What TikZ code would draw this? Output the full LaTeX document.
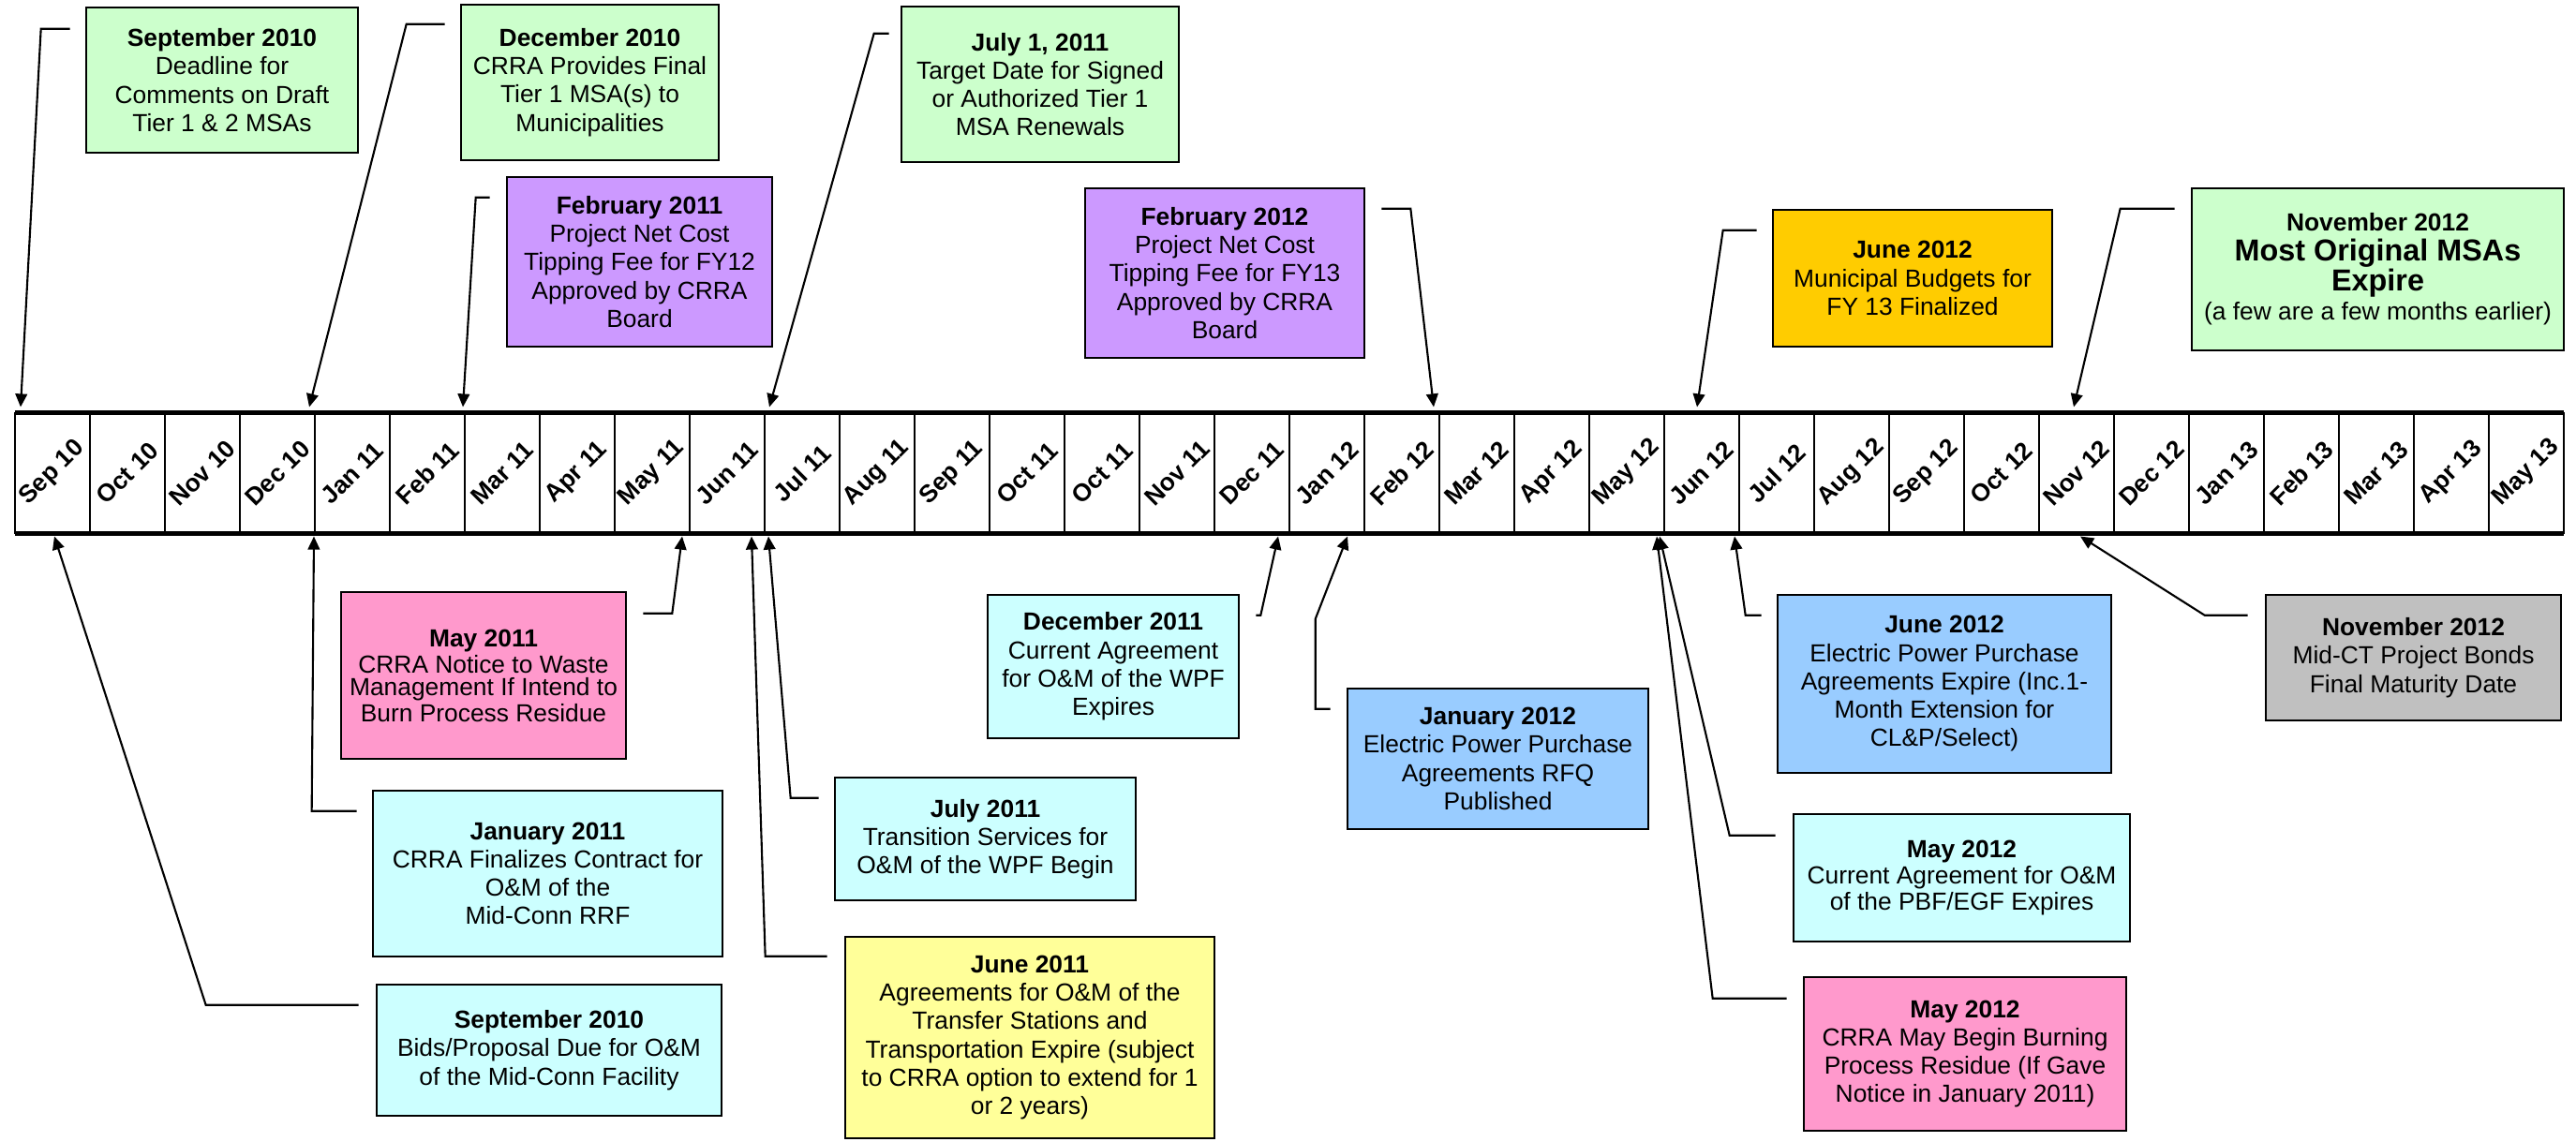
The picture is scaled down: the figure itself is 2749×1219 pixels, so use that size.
\documentclass[tikz,border=0pt]{standalone}
\usepackage{fontspec}
\setmainfont{Liberation Sans}
\usepackage{tikz}
\usetikzlibrary{arrows.meta,calc}

\definecolor{msagreen}{HTML}{CCFFCC}
\definecolor{feepurple}{HTML}{CC99FF}
\definecolor{budgetgold}{HTML}{FFCC00}
\definecolor{burnpink}{HTML}{FF99CC}
\definecolor{omcyan}{HTML}{CCFFFF}
\definecolor{powerblue}{HTML}{99CCFF}
\definecolor{transyellow}{HTML}{FFFF99}
\definecolor{bondgrey}{HTML}{C0C0C0}

\tikzset{
  evt/.style={draw, line width=0.7pt, align=center, inner sep=0pt, font=\fontsize{7.5}{8.6}\selectfont},
  tight/.style={font=\fontsize{7.5}{6.8}\selectfont},
  cell/.style={draw, line width=0.5pt, minimum width=0.8cm, minimum height=1.29cm, inner sep=0pt, outer sep=0pt},
  monthlbl/.style={rotate=45, inner sep=0pt, font=\fontsize{7.5}{9}\selectfont\bfseries},
  conn/.style={-{Triangle[length=4pt,width=3.6pt]}, line width=0.6pt},
}

\begin{document}
\begin{tikzpicture}[x=0.01cm, y=-0.01cm]

\useasboundingbox (0,0) rectangle (2749,1219);

% month bar
\foreach \mon [count=\i from 0] in {Sep 10,Oct 10,Nov 10,Dec 10,Jan 11,Feb 11,Mar 11,Apr 11,May 11,Jun 11,Jul 11,Aug 11,Sep 11,Oct 11,Oct 11,Nov 11,Dec 11,Jan 12,Feb 12,Mar 12,Apr 12,May 12,Jun 12,Jul 12,Aug 12,Sep 12,Oct 12,Nov 12,Dec 12,Jan 13,Feb 13,Mar 13,Apr 13,May 13}
{
  \node[cell] (m\i) at (56+80*\i,505) {};
  \node[monthlbl] (t\i) at (m\i) {\mon};
}

\draw[line width=1.45pt] (m0.north west) -- (m33.north east);
\draw[line width=1.45pt] (m0.south west) -- (m33.south east);

% events above the bar
\node[evt, fill=msagreen, minimum width=2.90cm, minimum height=1.55cm] (sepA) at (237,85.5)
  {\textbf{September 2010}\\Deadline for\\Comments on Draft\\Tier 1 \& 2 MSAs};
\node[evt, fill=msagreen, minimum width=2.75cm, minimum height=1.66cm] (decA) at (629.5,88)
  {\textbf{December 2010}\\CRRA Provides Final\\Tier 1 MSA(s) to\\Municipalities};
\node[evt, fill=feepurple, minimum width=2.83cm, minimum height=1.81cm] (febA) at (682.5,279.5)
  {\textbf{February 2011}\\Project Net Cost\\Tipping Fee for FY12\\Approved by CRRA\\Board};
\node[evt, fill=msagreen, minimum width=2.96cm, minimum height=1.66cm] (julA) at (1110,90)
  {\textbf{July 1, 2011}\\Target Date for Signed\\or Authorized Tier 1\\MSA Renewals};
\node[evt, fill=feepurple, minimum width=2.98cm, minimum height=1.81cm] (febB) at (1307,291.5)
  {\textbf{February 2012}\\Project Net Cost\\Tipping Fee for FY13\\Approved by CRRA\\Board};
\node[evt, fill=budgetgold, minimum width=2.98cm, minimum height=1.46cm] (junB) at (2041,297)
  {\textbf{June 2012}\\Municipal Budgets for\\FY 13 Finalized};
\node[evt, fill=msagreen, minimum width=3.97cm, minimum height=1.73cm, font=\fontsize{7.5}{9}\selectfont] (novB) at (2537.5,287.5)
  {\textbf{November 2012}\\{\fontsize{9.2}{9}\selectfont\bfseries Most Original MSAs}\\{\fontsize{9.2}{9}\selectfont\bfseries Expire}\\(a few are a few months earlier)};

% events below the bar
\node[evt, fill=omcyan, minimum width=3.68cm, minimum height=1.40cm] (sepC) at (586,1121)
  {\textbf{September 2010}\\Bids/Proposal Due for O\&M\\of the Mid-Conn Facility};
\node[evt, fill=omcyan, minimum width=3.73cm, minimum height=1.77cm] (janA) at (584.5,932.5)
  {\textbf{January 2011}\\CRRA Finalizes Contract for\\O\&M of the\\Mid-Conn RRF};
\node[evt, tight, fill=burnpink, minimum width=3.04cm, minimum height=1.78cm] (mayA) at (516,721)
  {\textbf{May 2011}\\CRRA Notice to Waste\\Management If Intend to\\Burn Process Residue};
\node[evt, fill=omcyan, minimum width=2.68cm, minimum height=1.53cm] (decB) at (1188,711.5)
  {\textbf{December 2011}\\Current Agreement\\for O\&M of the WPF\\Expires};
\node[evt, fill=omcyan, minimum width=3.21cm, minimum height=1.31cm] (julB) at (1051.5,895.5)
  {\textbf{July 2011}\\Transition Services for\\O\&M of the WPF Begin};
\node[evt, fill=transyellow, minimum width=3.94cm, minimum height=2.15cm] (junA) at (1099,1107.5)
  {\textbf{June 2011}\\Agreements for O\&M of the\\Transfer Stations and\\Transportation Expire (subject\\to CRRA option to extend for 1\\or 2 years)};
\node[evt, fill=powerblue, minimum width=3.21cm, minimum height=1.50cm] (janB) at (1598.5,810)
  {\textbf{January 2012}\\Electric Power Purchase\\Agreements RFQ\\Published};
\node[evt, fill=powerblue, minimum width=3.56cm, minimum height=1.90cm] (junC) at (2075,730)
  {\textbf{June 2012}\\Electric Power Purchase\\Agreements Expire (Inc.1-\\Month Extension for\\CL\&P/Select)};
\node[evt, fill=bondgrey, minimum width=3.15cm, minimum height=1.34cm] (novC) at (2575.5,702)
  {\textbf{November 2012}\\Mid-CT Project Bonds\\Final Maturity Date};
\node[evt, tight, fill=omcyan, minimum width=3.59cm, minimum height=1.36cm] (mayB) at (2093.5,937)
  {\textbf{May 2012}\\Current Agreement for O\&M\\of the PBF/EGF Expires};
\node[evt, fill=burnpink, minimum width=3.44cm, minimum height=1.64cm] (mayC) at (2097,1125)
  {\textbf{May 2012}\\CRRA May Begin Burning\\Process Residue (If Gave\\Notice in January 2011)};

% pointers to the bar
\draw[conn] ($(sepA.north west)+(-16,24)$) -- ++(-31,0) -- ($(m0.north)+(-34,-6)$);
\draw[conn] ($(decA.north west)+(-16,22)$) -- ++(-41,0) -- ($(m3.north)+(34,-6)$);
\draw[conn] ($(febA.north west)+(-17,23)$) -- ++(-15,0) -- ($(m5.north)+(38,-6)$);
\draw[conn] ($(julA.north west)+(-12,30)$) -- ++(-16,0) -- ($(m10.north)+(-35,-6)$);
\draw[conn] ($(febB.north east)+(17,23)$) -- ++(31,0) -- ($(m18.north)+(34,-6)$);
\draw[conn] ($(junB.north west)+(-16,23)$) -- ++(-36,0) -- ($(m22.north)+(-5,-6)$);
\draw[conn] ($(novB.north west)+(-17,23)$) -- ++(-58,0) -- ($(m27.north)+(-3,-6)$);

\draw[conn] ($(sepC.north west)+(-18,23)$) -- ++(-163,0) -- ($(m0.south)+(2,3)$);
\draw[conn] ($(janA.north west)+(-16,23)$) -- ++(-48,0) -- ($(m4.south)+(-41,3)$);
\draw[conn] ($(mayA.north east)+(17,24)$) -- ++(31,0) -- ($(m8.south)+(32,3)$);
\draw[conn] ($(decB.north east)+(17,23)$) -- ++(5,0) -- ($(m16.south)+(28,3)$);
\draw[conn] ($(julB.north west)+(-16,23)$) -- ++(-30,0) -- ($(m10.south)+(-36,3)$);
\draw[conn] ($(junA.north west)+(-18,22)$) -- ++(-66,0) -- ($(m9.south)+(26,3)$);
\draw[conn] ($(janB.north west)+(-17,23)$) -- ++(-16,0) -- ++(0,-96) -- ($(m17.south)+(22,3)$);
\draw[conn] ($(junC.north west)+(-16,23)$) -- ++(-17,0) -- ($(m22.south)+(35,3)$);
\draw[conn] ($(novC.north west)+(-18,23)$) -- ++(-46,0) -- ($(m27.south)+(4,3)$);
\draw[conn] ($(mayB.north west)+(-18,24)$) -- ++(-49,0) -- ($(m21.south)+(35,3)$);
\draw[conn] ($(mayC.north west)+(-17,24)$) -- ++(-79,0) -- ($(m21.south)+(32,3)$);

\end{tikzpicture}
\end{document}
